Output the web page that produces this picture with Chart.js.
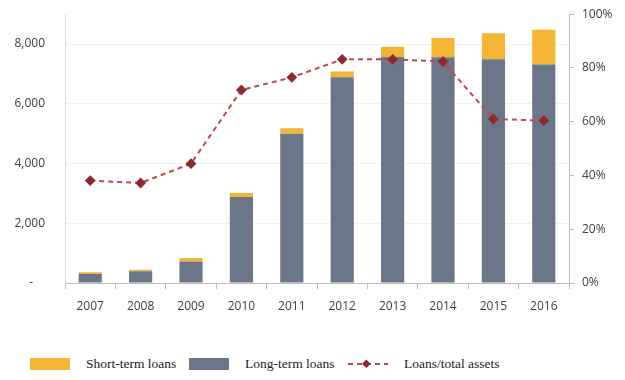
<!DOCTYPE html>
<html>
<head>
<meta charset="utf-8">
<script src="https://cdn.jsdelivr.net/npm/chart.js@4"></script>
<style>
  body { margin: 0; background: #fff; overflow: hidden; }
  #wrap { position: relative; width: 625px; height: 380px; overflow: hidden; }
  #box { position: absolute; left: 0; top: -13px; width: 625px; height: 333px; }
  #legend { position: absolute; left: 0; top: 354px; width: 625px; height: 20px;
            font-family: "Liberation Serif", "Times New Roman", serif; font-size: 13.5px; color: #222; }
  .item { position: absolute; top: 0; height: 20px; line-height: 20px; white-space: nowrap; }
  .sw { position: absolute; top: 4px; width: 40px; height: 12px; }
</style>
</head>
<body>
<div id="wrap">
  <div id="box"><canvas id="chart"></canvas></div>
  <div id="legend"></div>
</div>
<script>
    const years = ['2007', '2008', '2009', '2010', '2011', '2012', '2013', '2014', '2015', '2016'];
    const longTerm = [300, 390, 720, 2880, 5000, 6890, 7570, 7560, 7490, 7320];
    const shortTerm = [60, 50, 120, 130, 180, 190, 340, 640, 870, 1160];
    const loanRatio = [38.1, 37.2, 44.4, 71.8, 76.5, 83.2, 83.2, 82.4, 61.0, 60.4];
    const leftTicks = [0, 2000, 4000, 6000, 8000];
    const rightTicks = [0, 20, 40, 60, 80, 100];

    const orange = '#F4B436';
    const slate = '#6B7689';
    const lineRed = '#BC4A4F';
    const markRed = '#8C2A30';
    const tickFont = { family: '"Open Sans", "Noto Sans", sans-serif', size: 12 };

    const ctx = document.getElementById('chart');
    new Chart(ctx, {
        data: {
            labels: years,
            datasets: [
                {
                    type: 'line',
                    label: 'Loans/total assets',
                    data: loanRatio,
                    yAxisID: 'y2',
                    borderColor: lineRed,
                    borderWidth: 2,
                    borderDash: [5, 4],
                    pointStyle: 'rectRot',
                    pointRadius: 4,
                    pointBackgroundColor: markRed,
                    pointBorderColor: markRed,
                    fill: false,
                    tension: 0,
                    order: 0,
                },
                {
                    type: 'bar',
                    label: 'Long-term loans',
                    data: longTerm,
                    backgroundColor: slate,
                    stack: 'loans',
                    barPercentage: 0.46,
                    categoryPercentage: 1,
                    order: 1,
                },
                {
                    type: 'bar',
                    label: 'Short-term loans',
                    data: shortTerm,
                    backgroundColor: orange,
                    stack: 'loans',
                    barPercentage: 0.46,
                    categoryPercentage: 1,
                    order: 2,
                },
            ],
        },
        options: {
            responsive: true,
            maintainAspectRatio: false,
            animation: false,
            layout: { padding: { top: 1, left: 0, right: 0, bottom: 0 } },
            plugins: {
                legend: { display: false },
                tooltip: { enabled: false },
            },
            scales: {
                x: {
                    stacked: true,
                    offset: true,
                    grid: {
                        offset: true,
                        drawOnChartArea: false,
                        color: '#bdbdbd',
                        tickLength: 6,
                    },
                    border: { color: '#bdbdbd' },
                    ticks: { color: '#404040', font: tickFont, padding: 10 },
                    afterFit: (s) => { s.height = 37; },
                },
                y: {
                    stacked: true,
                    position: 'left',
                    min: 0,
                    max: 9000,
                    afterBuildTicks: (s) => { s.ticks = leftTicks.map(v => ({ value: v })); },
                    grid: { color: '#f1f1f1', drawTicks: false },
                    border: { color: '#d9d9d9' },
                    ticks: {
                        color: '#404040',
                        font: tickFont,
                        padding: 20,
                        callback: (v) => v === 0 ? '-\u2002\u2002' : v.toLocaleString('en-US'),
                    },
                    afterFit: (s) => { s.width = 65; },
                },
                y2: {
                    position: 'right',
                    min: 0,
                    max: 100,
                    afterBuildTicks: (s) => { s.ticks = rightTicks.map(v => ({ value: v })); },
                    grid: { drawOnChartArea: false, color: '#bdbdbd', tickLength: 5 },
                    border: { color: '#bdbdbd' },
                    ticks: {
                        color: '#404040',
                        font: tickFont,
                        padding: 8,
                        callback: (v) => v + '%',
                    },
                    afterFit: (s) => { s.width = 56; },
                },
            },
        },
    });

    // legend drawn as html, same entries as the datasets
    const legend = document.getElementById('legend');
    const items = [
        { label: 'Short-term loans', kind: 'box', color: orange, x: 30 },
        { label: 'Long-term loans', kind: 'box', color: slate, x: 189 },
        { label: 'Loans/total assets', kind: 'line', color: lineRed, x: 348 },
    ];
    items.forEach(it => {
        const el = document.createElement('div');
        el.className = 'item';
        el.style.left = it.x + 'px';
        if (it.kind === 'box') {
            el.innerHTML = '<span class="sw" style="left:0;background:' + it.color + '"></span>' +
                '<span style="position:absolute;left:56px">' + it.label + '</span>';
        } else {
            el.innerHTML = '<svg style="position:absolute;left:0;top:4px" width="40" height="12">' +
                '<line x1="0" y1="6" x2="40" y2="6" stroke="' + it.color + '" stroke-width="2" stroke-dasharray="5,4"/>' +
                '<rect x="16" y="2" width="6" height="6" fill="' + markRed + '" transform="rotate(45 19 5) translate(0 1)"/></svg>' +
                '<span style="position:absolute;left:56px">' + it.label + '</span>';
        }
        legend.appendChild(el);
    });
</script>
</body>
</html>
